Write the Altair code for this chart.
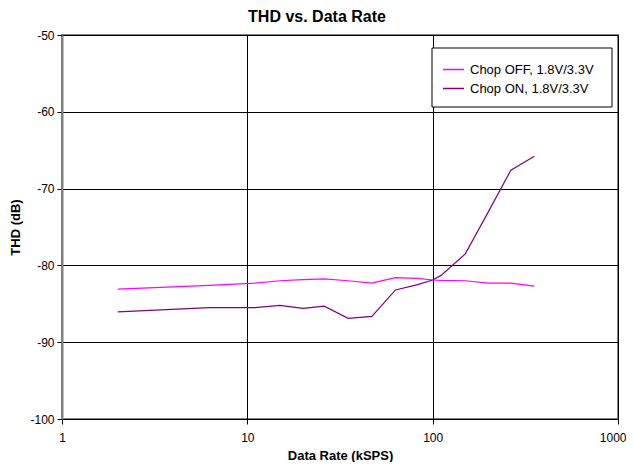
import altair as alt
import pandas as pd

rates = [2, 6.25, 11, 15, 20, 26, 35, 47, 63, 83, 100, 111, 150, 200, 264, 354]
chop_off = [-83.1, -82.6, -82.3, -82.0, -81.85, -81.75, -82.0, -82.3, -81.6, -81.7,
            -81.9, -81.95, -82.0, -82.3, -82.3, -82.7]
chop_on = [-86.05, -85.5, -85.5, -85.2, -85.6, -85.3, -86.9, -86.65, -83.2, -82.5,
           -81.9, -81.3, -78.5, -73.0, -67.6, -65.8]
series_names = ["Chop OFF, 1.8V/3.3V", "Chop ON, 1.8V/3.3V"]
series_colors = ["#FF00FF", "#800080"]
x_ticks = [1, 10, 100, 1000]
y_ticks = [-100, -90, -80, -70, -60, -50]

rows = []
for r, v in zip(rates, chop_off):
    rows.append({"rate": r, "thd": v, "series": series_names[0]})
for r, v in zip(rates, chop_on):
    rows.append({"rate": r, "thd": v, "series": series_names[1]})
df = pd.DataFrame(rows)

FONT = "Liberation Sans"

lines = alt.Chart(df).mark_line(strokeWidth=1.2).encode(
    x=alt.X("rate:Q",
            scale=alt.Scale(type="log", domain=[1, 1000], nice=False),
            axis=alt.Axis(title="Data Rate (kSPS)", values=x_ticks,
                          labelExpr="'' + datum.value", grid=True,
                          gridColor="#000000", gridOpacity=1, gridWidth=1,
                          domainColor="#000000", tickColor="#000000",
                          tickSize=5, labelFontSize=12, labelPadding=8,
                          labelAlign={"condition": {"test": "datum.value >= 1000", "value": "right"},
                                      "value": "center"},
                          labelOffset={"condition": {"test": "datum.value >= 1000", "value": 8},
                                       "value": 0},
                          labelColor="#000000", titleFontSize=13, titleFontWeight="bold",
                          titleColor="#000000", titlePadding=6, labelFlush=False)),
    y=alt.Y("thd:Q",
            scale=alt.Scale(domain=[-100, -50], nice=False, zero=False),
            axis=alt.Axis(title="THD (dB)", values=y_ticks,
                          labelExpr="'' + datum.value",
                          grid=True, gridColor="#000000", gridOpacity=1, gridWidth=1,
                          domainColor="#808080", domainWidth=2, tickColor="#000000",
                          tickSize=5, labelFontSize=12, labelPadding=3,
                          labelColor="#000000", titleFontSize=13, titleFontWeight="bold",
                          titleColor="#000000", titlePadding=7)),
    color=alt.Color("series:N",
                    scale=alt.Scale(domain=series_names, range=series_colors),
                    legend=alt.Legend(title=None, orient="none", legendX=370, legendY=13,
                                      symbolType="stroke", symbolStrokeWidth=1.5,
                                      symbolSize=441, labelFontSize=13,
                                      labelColor="#000000",
                                      padding=10, rowPadding=0, labelOffset=5)),
)

legend_box = alt.Chart(pd.DataFrame({"k": [0]})).mark_rect(
    fill="#FFFFFF", stroke="#000000", strokeWidth=1
).encode(
    x=alt.value(370), x2=alt.value(550), y=alt.value(13), y2=alt.value(72)
)

chart = alt.layer(lines, legend_box).properties(
    width=556,
    height=384,
    padding={"left": 54, "top": 27, "right": 8, "bottom": 43},
    autosize=alt.AutoSizeParams(type="none"),
    title=alt.TitleParams("THD vs. Data Rate", fontSize=16, fontWeight="bold",
                          font=FONT, color="#000000", anchor="middle", dx=-23,
                          offset=4),
).configure(font=FONT).configure_view(stroke="#808080", strokeWidth=2)

chart.save("out.html", embed_options={"renderer": "svg", "actions": False})
